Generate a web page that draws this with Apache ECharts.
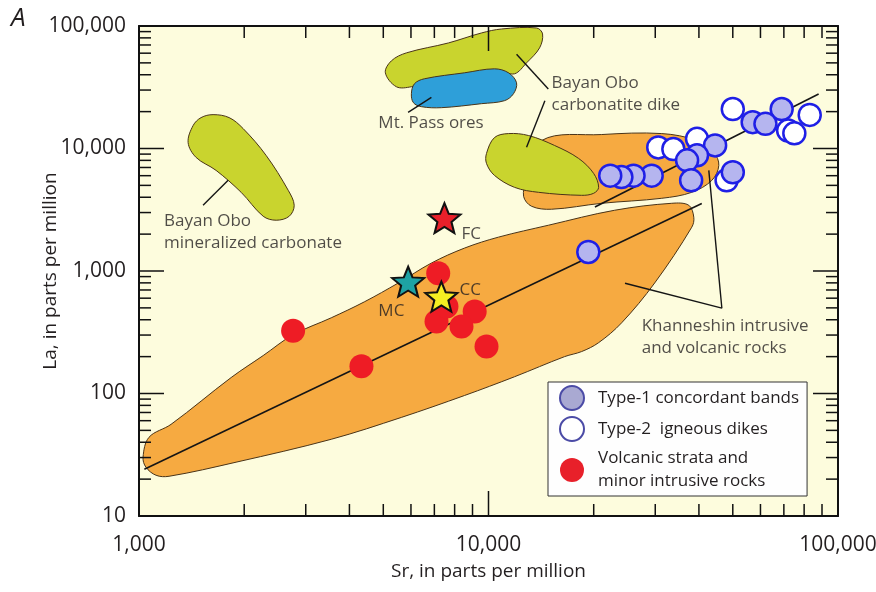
<!DOCTYPE html>
<html><head><meta charset="utf-8">
<script src="https://cdn.jsdelivr.net/npm/echarts@6/dist/echarts.min.js"></script>
<style>html,body{margin:0;padding:0;background:#fff}#c{width:876px;height:592px}</style>
</head><body><div id="c"></div>
<script>
// ---------- axis ticks / labels ----------
const xMajorTicks = [1000, 10000, 100000];
const xTickLabels = ['1,000', '10,000', '100,000'];
const xMinorTicks = [2000,3000,4000,5000,6000,7000,8000,9000,20000,30000,40000,50000,60000,70000,80000,90000];
const yMajorTicks = [10, 100, 1000, 10000, 100000];
const yTickLabels = ['10', '100', '1,000', '10,000', '100,000'];
const yMinorTicks = [20,30,40,50,60,70,80,90,200,300,400,500,600,700,800,900,2000,3000,4000,5000,6000,7000,8000,9000,20000,30000,40000,50000,60000,70000,80000,90000];

// ---------- point data [Sr, La] ----------
const type1Name = 'Type-1 concordant bands';
const type2Name = 'Type-2  igneous dikes';
const volcName = 'Volcanic strata and\nminor intrusive rocks';
const type1Points = [[69000,21000],[57000,16400],[62000,15900],[44500,10600],[39500,8800],[37000,8000],[38000,5500],[50000,6400],[29300,6000],[26000,6000],[24000,5850],[22300,6000],[19300,1430]];
const type2Points = [[50000,21000],[83000,18800],[72000,14000],[75000,13300],[30600,10200],[33800,9900],[39500,12000],[48000,5500]];
const volcPoints = [[2760,325],[4330,167],[7180,958],[7100,387],[7580,513],[9130,467],[8370,352],[9870,242]];
const fcPoint = [[7480,2700]];
const mcPoint = [[5890,818]];
const ccPoint = [[7330,618]];

// ---------- trend lines and leader lines ----------
const lowerTrend = [[1036,24.1],[40760,3551]];
const upperTrend = [[20160,3333],[88020,27840]];
const leaders = [
  [[1525,3441],[1799,5494]],
  [[5888,19730],[6865,26140]],
  [[14830,30580],[12030,58880]],
  [[14500,24560],[12850,10250]],
  [[46530,497],[24580,794]],
  [[46530,497],[42690,6624]]
];

// ---------- annotation text anchors [Sr, La] ----------
const annotTexts = ['Bayan Obo\nmineralized carbonate','Mt. Pass ores','Bayan Obo\ncarbonatite dike','Khanneshin intrusive\nand volcanic rocks','FC','MC','CC'];
const annotPos = [[1179,2056],[4840,15970],[15150,27740],[27440,291],[8370,2000],[4840,467],[8260,700]];

// ---------- field outlines [Sr, La] ----------
const khanLower = [[1027,30.2],[1068,43.9],[1235,56],[1835,135],[2266,204],[2762,302],[3549,415],[4413,560],[5522,799],[6865,1161],[8537,1538],[10680,1890],[14860,2366],[22960,3133],[33440,3571],[37420,3441],[38670,2748],[38160,2279],[29890,799],[24050,378],[20660,260],[18470,220],[16510,200],[11870,137],[8537,96.3],[5632,63.8],[3549,42.3],[1896,27.5],[1219,21.1],[1119,21.5],[1047,25]];
const khanUpper = [[14190,11610],[21080,13000],[31310,13240],[39450,11610],[44130,9280],[45600,7274],[43550,5494],[38160,4388],[31310,3922],[21080,3571],[15150,3193],[13280,3376],[12600,4071],[12850,5494]];
const boDikeLower = [[9869,9106],[10400,12280],[11410,13240],[13020,12760],[15460,10580],[18110,8293],[19990,6262],[20660,4818],[19990,4307],[18470,4148],[13910,4388],[11870,4818],[10400,6032],[9869,7551]];
const boDikeUpper = [[5069,41490],[5274,51930],[5821,60330],[7682,72740],[9548,87740],[10900,94540],[13730,96320],[14280,86090],[14000,66240],[12850,50030],[11870,40720],[10680,43070],[6865,35710],[6017,31930],[5450,31930]];
const mtPass = [[6017,28000],[6138,33760],[6555,37080],[8537,41490],[10400,44710],[11410,41490],[12030,34400],[11790,28000],[11110,24560],[9548,23220],[7333,21540],[6427,21950],[6097,23660]];
const boMineral = [[1629,18900],[1811,17870],[1986,14540],[2311,8773],[2673,4555],[2780,3441],[2691,2800],[2470,2597],[2266,2800],[1960,4388],[1662,6624],[1457,8450],[1382,11190],[1428,15380],[1505,17870]];

// ---------- styles ----------
const FONT = "'Open Sans', sans-serif";
const TXT = '#231f20';
const ORANGE = '#f6aa41';
const GREEN = '#c9d42e';
const BLUE = '#2e9fd9';
const OUTLINE = '#4a3418';
const STAR = 'path://M50,0L62.9,32.2L97.6,34.5L70.9,56.8L79.4,90.5L50,72L20.6,90.5L29.1,56.8L2.4,34.5L37.1,32.2Z';
const G = { left: 139, right: 38, top: 26, bottom: 76 };
const X_MIN = 1000, X_MAX = 100000, Y_MIN = 10, Y_MAX = 100000;

function labelFor(list, ticks) {
  return function (v) {
    for (let i = 0; i < ticks.length; i++) {
      if (Math.abs(Math.log10(v) - Math.log10(ticks[i])) < 1e-6) return list[i];
    }
    return String(v);
  };
}

function xAxisDef(pos, withLabel) {
  return {
    type: 'log', min: X_MIN, max: X_MAX, position: pos, z: 8,
    axisLine: { show: true, onZero: false, lineStyle: { color: '#111', width: 2 } },
    axisTick: { show: false }, minorTick: { show: false },
    axisLabel: withLabel ? { show: true, margin: 19, formatter: labelFor(xTickLabels, xMajorTicks), fontFamily: FONT, fontSize: 21, color: TXT } : { show: false },
    splitLine: { show: false }, minorSplitLine: { show: false },
    name: withLabel ? 'Sr, in parts per million' : '', nameLocation: 'middle', nameGap: 46, nameMoveOverlap: false,
    nameTextStyle: { fontFamily: FONT, fontSize: 19, color: TXT }
  };
}
function yAxisDef(pos, withLabel) {
  return {
    type: 'log', min: Y_MIN, max: Y_MAX, position: pos, z: 8,
    axisLine: { show: true, onZero: false, lineStyle: { color: '#111', width: 2 } },
    axisTick: { show: false }, minorTick: { show: false },
    axisLabel: withLabel ? { show: true, margin: 13, formatter: labelFor(yTickLabels, yMajorTicks), fontFamily: FONT, fontSize: 21, color: TXT } : { show: false },
    splitLine: { show: false }, minorSplitLine: { show: false },
    name: withLabel ? 'La, in parts per million' : '', nameLocation: 'middle', nameGap: 79, nameMoveOverlap: false,
    nameTextStyle: { fontFamily: FONT, fontSize: 19, color: TXT }
  };
}

// inward tick marks on all four sides, placed through the axis scales
function tickSeries() {
  return {
    type: 'custom', silent: true, z: 20,
    data: [[X_MIN, Y_MIN]], encode: { x: 0, y: 1 },
    renderItem: function (params, api) {
      const children = [];
      function add(x1, y1, x2, y2) {
        children.push({ type: 'line', shape: { x1: x1, y1: y1, x2: x2, y2: y2 }, style: { stroke: '#111', lineWidth: 1.5 } });
      }
      const xs = xMajorTicks.map(function (v) { return [v, 25]; }).concat(xMinorTicks.map(function (v) { return [v, 12]; }));
      xs.forEach(function (t) {
        const b = api.coord([t[0], Y_MIN]);
        const tp = api.coord([t[0], Y_MAX]);
        add(b[0], b[1], b[0], b[1] - t[1]);
        add(tp[0], tp[1], tp[0], tp[1] + t[1]);
      });
      const ys = yMajorTicks.map(function (v) { return [v, 25]; }).concat(yMinorTicks.map(function (v) { return [v, 12]; }));
      ys.forEach(function (t) {
        const l = api.coord([X_MIN, t[0]]);
        const r = api.coord([X_MAX, t[0]]);
        add(l[0], l[1], l[0] + t[1], l[1]);
        add(r[0], r[1], r[0] - t[1], r[1]);
      });
      return { type: 'group', children: children };
    }
  };
}

function fieldSeries(pts, fill, z) {
  return {
    type: 'custom', silent: true, z: z,
    data: [pts[0]], encode: { x: 0, y: 1 },
    renderItem: function (params, api) {
      const points = pts.map(function (p) { return api.coord(p); });
      return { type: 'polygon', shape: { points: points, smooth: 0.35 }, style: { fill: fill, stroke: OUTLINE, lineWidth: 1 } };
    }
  };
}
function segSeries(data, width) {
  return { type: 'line', data: data, symbol: 'none', silent: true, z: 3, lineStyle: { color: '#151515', width: width } };
}
function starSeries(data, color) {
  return { type: 'scatter', data: data, symbol: STAR, symbolSize: [32, 30], z: 6, itemStyle: { color: color, borderColor: '#111', borderWidth: 2, opacity: 1 } };
}

const series = [
  fieldSeries(khanLower, ORANGE, 1),
  fieldSeries(khanUpper, ORANGE, 1),
  fieldSeries(boDikeLower, GREEN, 1),
  fieldSeries(boDikeUpper, GREEN, 1),
  fieldSeries(mtPass, BLUE, 1),
  fieldSeries(boMineral, GREEN, 1),
  segSeries(lowerTrend, 1.6),
  segSeries(upperTrend, 1.6)
];
leaders.forEach(function (l) { series.push(segSeries(l, 1.4)); });
series.push(
  { name: volcName, type: 'scatter', data: volcPoints, symbol: 'circle', symbolSize: 24, z: 4, itemStyle: { color: '#ee1c25', opacity: 1 } },
  { name: type2Name, type: 'scatter', data: type2Points, symbol: 'circle', symbolSize: 22, z: 4, itemStyle: { color: '#ffffff', borderColor: '#1f1fe6', borderWidth: 2.5, opacity: 1 } },
  { name: type1Name, type: 'scatter', data: type1Points, symbol: 'circle', symbolSize: 22, z: 5, itemStyle: { color: '#b5b5ef', borderColor: '#1f1fe6', borderWidth: 2.5, opacity: 1 } },
  starSeries(fcPoint, '#e8202a'),
  starSeries(mcPoint, '#1ea2a4'),
  starSeries(ccPoint, '#f4ee22'),
  {
    type: 'scatter', silent: true, z: 7, symbolSize: 0,
    data: annotPos.map(function (p, i) { return { name: annotTexts[i], value: p }; }),
    label: { show: true, position: 'right', distance: 0, formatter: function (p) { return p.name; }, fontFamily: FONT, fontSize: 17, lineHeight: 22, color: TXT }
  },
  tickSeries()
);

const chart = echarts.init(document.getElementById('c'), null, { renderer: 'canvas' });
chart.setOption({
  animation: false,
  backgroundColor: '#ffffff',
  grid: { left: G.left, right: G.right, top: G.top, bottom: G.bottom, show: false, outerBoundsMode: 'none', containLabel: false },
  xAxis: [xAxisDef('bottom', true), xAxisDef('top', false)],
  yAxis: [yAxisDef('left', true), yAxisDef('right', false)],
  legend: {
    data: [
      { name: type1Name, itemStyle: { color: '#a9a9d2', borderColor: '#4b4ba6', borderWidth: 2 } },
      { name: type2Name, itemStyle: { color: '#ffffff', borderColor: '#4b4ba6', borderWidth: 2 } },
      { name: volcName, itemStyle: { color: '#e8202a', borderWidth: 0 } }
    ],
    icon: 'circle', orient: 'vertical', left: 548, top: 382,
    itemWidth: 24, itemHeight: 24, itemGap: 5,
    padding: [3, 8, 3, 11],
    backgroundColor: '#fefefe', borderColor: '#333', borderWidth: 1, borderRadius: 0,
    textStyle: { fontFamily: FONT, fontSize: 17, lineHeight: 23, color: TXT, padding: [0, 0, 0, 9] },
    selectedMode: false
  },
  graphic: [
    { type: 'rect', z: -100, silent: true, shape: { x: G.left, y: G.top, width: 876 - G.left - G.right, height: 592 - G.top - G.bottom }, style: { fill: '#fdfcdd' } },
    { type: 'text', left: 11, top: 6, style: { text: 'A', font: 'italic 26px ' + FONT, fill: TXT } }
  ],
  series: series
});
</script>
</body></html>
